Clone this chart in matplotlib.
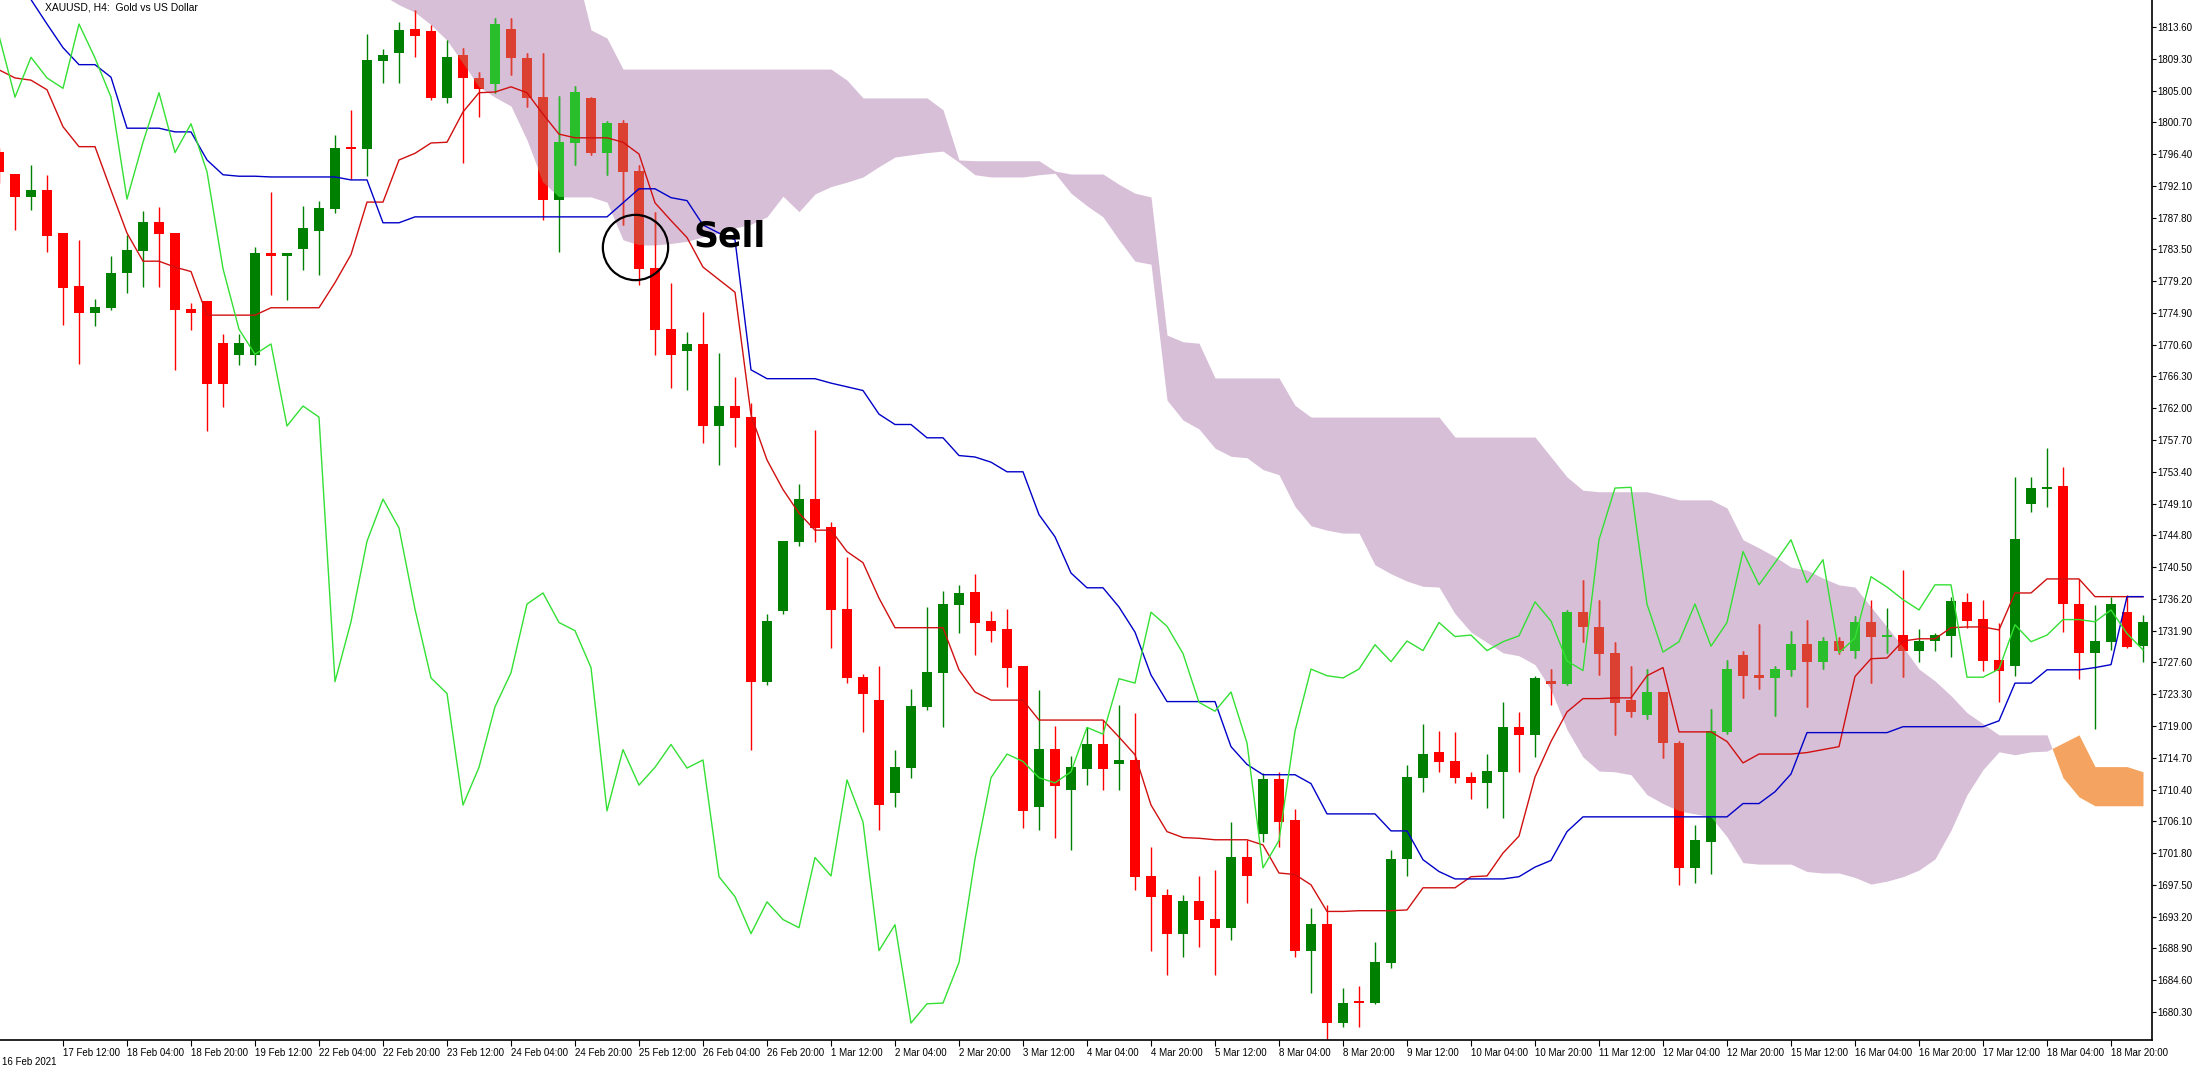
import matplotlib
matplotlib.use("Agg")
import matplotlib.pyplot as plt
import numpy as np
from matplotlib.patches import PathPatch

opens = [1796.6,1793.6,1790.6,1791.5,1785.7,1778.5,1775.0,1775.6,1780.3,1783.3,
 1787.1,1785.7,1775.4,1776.4,1770.8,1769.3,1769.3,1782.9,1782.6,1783.6,
 1786.1,1789.0,1797.3,1797.2,1809.0,1810.2,1813.2,1813.0,1804.1,1809.7,
 1806.7,1806.0,1813.3,1809.4,1804.1,1790.3,1797.9,1803.9,1796.6,1800.6,
 1794.1,1780.9,1772.7,1769.8,1770.6,1759.6,1762.3,1760.8,1725.0,1734.6,
 1743.9,1749.7,1745.9,1734.8,1725.6,1722.4,1710.0,1713.4,1721.6,1726.2,
 1735.4,1737.1,1733.1,1732.0,1727.0,1708.1,1715.8,1710.4,1713.3,1716.5,
 1713.9,1714.4,1698.7,1696.1,1690.9,1695.2,1692.8,1691.7,1701.2,1704.4,
 1711.7,1706.2,1688.6,1692.1,1678.8,1681.7,1681.5,1687.0,1701.0,1712.0,
 1715.4,1714.2,1712.1,1711.3,1712.8,1718.8,1717.9,1725.0,1724.8,1734.4,
 1732.4,1728.8,1722.4,1720.6,1723.6,1716.7,1699.8,1703.4,1718.2,1728.5,
 1725.9,1725.5,1726.7,1730.0,1727.7,1730.5,1729.2,1733.0,1731.1,1731.3,
 1729.2,1730.5,1731.2,1735.7,1733.4,1727.9,1727.2,1749.1,1751.1,1751.4,
 1735.5,1729.0,1730.4,1734.4,1729.9]
highs = [1797.2,1793.6,1794.9,1793.6,1785.7,1784.8,1776.8,1782.6,1785.5,1788.7,
 1789.3,1785.7,1776.2,1776.4,1772.0,1772.0,1783.8,1791.3,1782.9,1789.4,
 1790.1,1799.0,1802.4,1812.7,1810.6,1814.3,1815.9,1813.9,1811.8,1810.8,
 1807.5,1814.8,1814.8,1810.1,1810.1,1804.3,1805.6,1804.1,1800.9,1801.0,
 1794.9,1788.6,1779.0,1772.3,1775.0,1769.5,1766.2,1762.7,1734.2,1744.0,
 1751.7,1759.1,1746.6,1741.9,1726.1,1727.1,1715.8,1724.0,1735.1,1737.3,
 1738.1,1739.5,1734.6,1734.8,1727.0,1723.9,1719.0,1715.0,1718.8,1719.8,
 1721.9,1720.8,1702.6,1696.9,1696.1,1698.7,1699.5,1706.0,1703.6,1712.7,
 1712.8,1707.7,1694.3,1694.8,1683.6,1683.8,1689.8,1702.2,1713.7,1719.3,
 1718.3,1718.2,1712.8,1715.2,1722.3,1720.9,1725.7,1726.7,1734.7,1738.8,
 1736.1,1730.4,1727.1,1726.7,1723.6,1716.9,1705.6,1721.3,1727.9,1729.2,
 1732.8,1727.1,1731.9,1733.4,1731.0,1731.0,1733.9,1736.1,1735.0,1740.1,
 1732.1,1731.6,1736.5,1737.0,1736.1,1733.0,1752.7,1752.7,1756.6,1754.1,
 1738.9,1735.4,1736.5,1736.7,1734.0]
lows = [1792.5,1786.1,1788.8,1783.2,1773.3,1768.0,1773.1,1775.3,1777.6,1778.4,
 1778.4,1767.2,1772.6,1758.9,1762.2,1767.9,1767.9,1777.3,1776.6,1780.7,
 1780.0,1788.4,1793.0,1793.4,1806.0,1806.0,1809.5,1803.7,1803.3,1795.2,
 1801.4,1804.7,1807.1,1802.8,1787.5,1783.2,1794.9,1796.3,1793.6,1786.8,
 1778.7,1769.2,1764.8,1764.5,1757.3,1754.3,1756.8,1715.8,1724.6,1734.2,
 1743.4,1743.9,1729.6,1724.8,1718.2,1704.9,1708.1,1712.0,1721.2,1718.9,
 1731.6,1728.6,1730.3,1724.3,1705.2,1704.9,1703.9,1702.2,1711.0,1710.4,
 1710.4,1696.8,1688.6,1685.3,1687.8,1689.1,1685.3,1690.1,1695.1,1703.3,
 1702.6,1687.8,1682.9,1674.8,1678.3,1678.2,1681.4,1686.3,1698.7,1710.1,
 1712.8,1711.3,1709.1,1707.9,1706.6,1712.8,1714.8,1721.9,1724.6,1730.3,
 1725.9,1717.8,1720.2,1719.9,1714.7,1697.5,1697.7,1699.0,1717.9,1722.8,
 1724.0,1720.4,1725.8,1721.5,1726.7,1728.8,1728.2,1724.8,1728.9,1725.6,
 1727.7,1729.2,1728.4,1732.3,1726.4,1722.2,1725.8,1748.0,1748.7,1731.7,
 1725.4,1718.6,1729.3,1729.5,1727.7]
closes = [1794.0,1790.6,1791.5,1785.4,1778.4,1775.0,1775.6,1780.3,1783.4,1787.1,
 1785.7,1775.4,1775.0,1765.4,1765.4,1770.8,1782.9,1782.6,1782.9,1786.3,
 1789.1,1797.2,1797.1,1809.1,1809.7,1813.1,1812.4,1804.1,1809.5,1806.7,
 1805.3,1814.0,1809.4,1804.1,1790.3,1798.0,1804.7,1796.6,1800.5,1794.0,
 1780.9,1772.7,1769.3,1770.7,1759.6,1762.3,1760.8,1725.0,1733.1,1744.0,
 1749.7,1745.8,1734.8,1725.5,1723.4,1708.3,1713.4,1721.6,1726.2,1735.5,
 1737.0,1733.0,1731.9,1726.9,1707.5,1715.8,1711.0,1713.4,1716.5,1713.3,
 1714.4,1698.6,1695.9,1690.9,1695.2,1692.8,1691.7,1701.2,1698.7,1711.7,
 1706.0,1688.6,1692.1,1678.8,1681.4,1681.5,1687.0,1701.0,1712.0,1715.2,
 1714.2,1712.0,1711.3,1712.8,1718.8,1717.9,1725.4,1724.8,1734.4,1732.5,
 1728.8,1722.2,1721.0,1723.6,1716.7,1699.8,1703.5,1718.3,1726.7,1725.8,
 1725.5,1726.7,1730.0,1727.7,1730.5,1729.2,1733.0,1731.1,1731.3,1729.2,
 1730.4,1731.2,1735.8,1733.2,1727.8,1726.5,1744.2,1751.2,1751.3,1735.5,
 1729.0,1730.4,1735.5,1729.8,1733.0]

tenkan = [1807.8,1806.7,1806.4,1805.1,1800.1,1797.4,1797.4,1791.5,1785.7,1781.9,
 1781.9,1781.1,1780.5,1774.6,1774.6,1774.6,1774.6,1775.6,1775.6,1775.6,
 1775.6,1779.0,1782.8,1789.9,1789.9,1795.6,1796.5,1797.9,1798.0,1802.1,
 1804.7,1804.8,1805.5,1804.7,1801.8,1799.1,1798.6,1798.6,1798.6,1798.0,
 1796.4,1789.8,1787.4,1785.1,1781.1,1779.4,1777.7,1761.1,1755.0,1751.0,
 1747.8,1745.5,1745.5,1742.6,1741.1,1736.3,1732.3,1732.3,1732.3,1732.3,
 1726.6,1723.6,1722.5,1722.5,1722.5,1719.8,1719.8,1719.8,1719.8,1719.8,
 1717.5,1715.1,1708.3,1704.7,1703.9,1703.8,1703.6,1703.6,1703.6,1702.9,
 1699.1,1698.9,1697.5,1693.9,1693.9,1694.0,1694.0,1694.0,1694.1,1697.1,
 1697.1,1697.1,1698.6,1698.7,1701.8,1704.1,1712.1,1716.9,1720.9,1722.7,
 1722.7,1722.8,1722.8,1725.8,1726.9,1718.2,1718.2,1718.2,1716.9,1714.0,
 1715.2,1715.2,1715.2,1715.4,1715.8,1716.2,1725.7,1728.1,1728.2,1730.5,
 1730.8,1730.8,1732.3,1732.4,1732.4,1732.0,1737.0,1737.0,1738.9,1738.9,
 1738.9,1736.5,1736.5,1736.5,1736.5]
kijun = [1822.0,1819.3,1817.3,1814.0,1810.8,1808.5,1808.5,1806.8,1799.9,1799.9,
 1799.9,1799.4,1799.4,1795.6,1793.6,1793.4,1793.4,1793.3,1793.3,1793.3,
 1793.3,1793.3,1792.9,1792.9,1787.1,1787.1,1787.9,1787.9,1787.9,1787.9,
 1787.9,1787.9,1787.9,1787.9,1787.9,1787.9,1787.9,1787.9,1787.9,1789.8,
 1791.7,1791.7,1790.5,1790.1,1786.8,1785.7,1784.8,1767.2,1766.0,1766.0,
 1766.0,1766.0,1765.4,1764.9,1764.4,1761.2,1759.8,1759.8,1758.0,1758.0,
 1755.6,1755.4,1754.7,1753.4,1753.4,1747.6,1744.6,1739.7,1737.7,1737.7,
 1735.1,1731.7,1725.9,1722.3,1722.3,1722.3,1722.3,1716.2,1713.8,1712.4,
 1712.4,1712.4,1711.2,1707.1,1707.1,1707.1,1707.1,1704.8,1704.8,1700.9,
 1699.3,1698.3,1698.3,1698.3,1698.3,1698.6,1699.9,1700.8,1704.7,1706.7,
 1706.7,1706.7,1706.7,1706.7,1706.7,1706.7,1706.7,1706.7,1706.7,1708.5,
 1708.5,1710.1,1712.5,1718.1,1718.1,1718.1,1718.1,1718.1,1718.1,1718.9,
 1718.9,1718.9,1718.9,1718.9,1718.9,1719.7,1724.8,1724.8,1726.6,1726.6,
 1726.6,1726.9,1727.3,1736.5,1736.5]
# chikou beyond the last 26 visible closes
chikou_tail = [1742.6,1738.1,1741.1,1744.2,1738.4,1741.5,1728.9,1730.9,1739.2,1737.8,
 1736.1,1734.7,1738.1,1738.1,1725.6,1725.6,1726.7,1732.7,1730.4,1731.3,
 1733.4,1733.4,1733.1,1734.7,1731.5,1729.3]

span_a = [1822.0]*37 + [1813.2,1812.1] + [1807.9]*14 + [1806.4] + [1804.0]*5 + [1802.4,1795.6] + \
 [1795.5]*5 + [1794.1,1793.7,1793.7,1793.7,1792.3,1791.1,1790.6,1771.9,1771.0,1770.8] + \
 [1766.1]*5 + [1762.4] + [1760.8]*9 + [1758.1]*6 + [1755.4,1752.7,1750.9,1750.7,1750.7,1750.7,1750.7,
 1750.2,1749.6,1749.6,1749.6,1748.5,1744.2,1743.1,1741.9,1740.5,1740.1,1739.0,1738.1,1737.8,
 1735.1,1732.4,1729.7,1726.7,1725.1,1723.1,1720.8,1719.3,1717.8,1717.8,1717.8,1717.8,
 1712.0,1709.4,1708.2,1708.2,1708.2,1708.2]
span_b = [1820.0]*24 + [1817.9,1816.6,1815.6,1813.9,1811.8,1808.7,1805.5,1804.1,1802.9,1798.3,
 1792.6,1790.6,1790.6,1790.6,1789.9,1784.8,1784.1,1784.1,1784.3,1784.6,
 1785.2,1785.7,1786.4,1786.9,1787.9,1790.7,1788.6,1791.0,1792.0,1792.6,
 1793.3,1794.7,1796.0,1796.3,1796.6,1796.8,1795.3,1793.6,1793.3,1793.3,
 1793.3,1793.6,1793.8,1791.1,1789.4,1787.9,1784.8,1781.9,1781.5,1763.1,
 1760.4,1759.2,1756.6,1755.5,1755.3,1753.7,1753.0,1748.7,1746.1,1745.5,
 1745.1,1745.1,1740.8,1739.6,1738.6,1737.9,1737.8,1734.2,1731.7,1730.3,
 1728.9,1728.5,1727.3,1723.9,1718.5,1714.8,1712.9,1712.8,1712.4,1709.7,
 1708.5,1707.5,1707.1,1706.7,1704.0,1700.5,1700.3,1700.3,1700.3,1699.3,
 1699.1,1699.1,1698.5,1697.6,1698.0,1698.6,1699.5,1701.0,1704.9,1709.7,
 1713.1,1715.5,1715.1,1715.5,1715.6,1716.7,1717.8,1713.5,1713.5,1713.5,1712.8]

price_ticks = [1813.6 - 4.3 * k for k in range(32)]
time_labels = ["17 Feb 12:00","18 Feb 04:00","18 Feb 20:00","19 Feb 12:00","22 Feb 04:00",
 "22 Feb 20:00","23 Feb 12:00","24 Feb 04:00","24 Feb 20:00","25 Feb 12:00","26 Feb 04:00",
 "26 Feb 20:00","1 Mar 12:00","2 Mar 04:00","2 Mar 20:00","3 Mar 12:00","4 Mar 04:00",
 "4 Mar 20:00","5 Mar 12:00","8 Mar 04:00","8 Mar 20:00","9 Mar 12:00","10 Mar 04:00",
 "10 Mar 20:00","11 Mar 12:00","12 Mar 04:00","12 Mar 20:00","15 Mar 12:00","16 Mar 04:00",
 "16 Mar 20:00","17 Mar 12:00","18 Mar 04:00","18 Mar 20:00"]

FONT = 'Liberation Sans'
n = len(opens)
idx = np.arange(n)
o = np.array(opens); h = np.array(highs); l = np.array(lows); c = np.array(closes)
chikou = np.array(closes[26:] + chikou_tail)
a = np.array(span_a); b = np.array(span_b)

fig = plt.figure(figsize=(21.92, 10.75), dpi=100)
ax = fig.add_axes([0, 35/1075, 2152/2192, 1040/1075])
ax.set_xlim(1/16, 2153/16)
ax.set_ylim(1676.5, 1817.25)

purple = ax.fill_between(idx, a, b, where=a >= b, interpolate=True, color='#D8BFD8', lw=0, zorder=1)
ax.fill_between(idx, a, b, where=a < b, interpolate=True, color='#F4A460', lw=0, zorder=1)

up = c >= o
def draw_candles(cu, cd, z, clip=None):
    col = np.where(up, cu, cd)
    lc = ax.vlines(idx, l, h, colors=col, lw=1.0, zorder=z)
    bars = ax.bar(idx, np.abs(c - o) + 0.12, bottom=np.minimum(o, c) - 0.06, width=0.66,
                  color=col, lw=0, zorder=z + 0.5)
    if clip is not None:
        lc.set_clip_path(clip)
        for p in bars:
            p.set_clip_path(clip)

draw_candles('#008000', '#FF0000', 2)
for path in purple.get_paths():
    clip_patch = PathPatch(path, transform=ax.transData, fc='none', ec='none')
    ax.add_patch(clip_patch)
    draw_candles('#2BBE2B', '#DC4030', 2.6, clip=clip_patch)

ax.plot(idx, tenkan, color='#D01010', lw=1.0, zorder=4)
ax.plot(idx, kijun, color='#0000C8', lw=1.0, zorder=4)
ax.plot(idx[:len(chikou)], chikou, color='#33E033', lw=1.0, zorder=4)

ax.plot([39.75], [1783.8], marker='o', markersize=47, mfc='none', mec='black', mew=1.6, zorder=6)
ax.text(43.4, 1785.3, "Sell", fontsize=25, fontweight='bold', color='black', va='center', ha='left', zorder=6)

for s in ['top', 'left']:
    ax.spines[s].set_visible(False)
ax.spines['right'].set_linewidth(1.2)
ax.spines['bottom'].set_linewidth(1.2)
ax.yaxis.tick_right()
ax.set_yticks(price_ticks)
ax.set_yticklabels([f"{v:.2f}" for v in price_ticks], fontsize=7, family=FONT)
ax.tick_params(axis='y', direction='out', length=3, pad=1)
ax.set_xticks([4 + 4 * k for k in range(len(time_labels))])
ax.set_xticklabels(time_labels, fontsize=7, ha='left', family=FONT)
ax.tick_params(axis='x', direction='out', length=4, pad=2)
fig.text(2/2192, 1 - 1062/1075, "16 Feb 2021", fontsize=7, ha='left', va='center', family=FONT)
fig.text(45/2192, 1 - 8/1075, "XAUUSD, H4:  Gold vs US Dollar", fontsize=7.5, ha='left', va='center', family=FONT)

fig.savefig("out.png", dpi=100)
